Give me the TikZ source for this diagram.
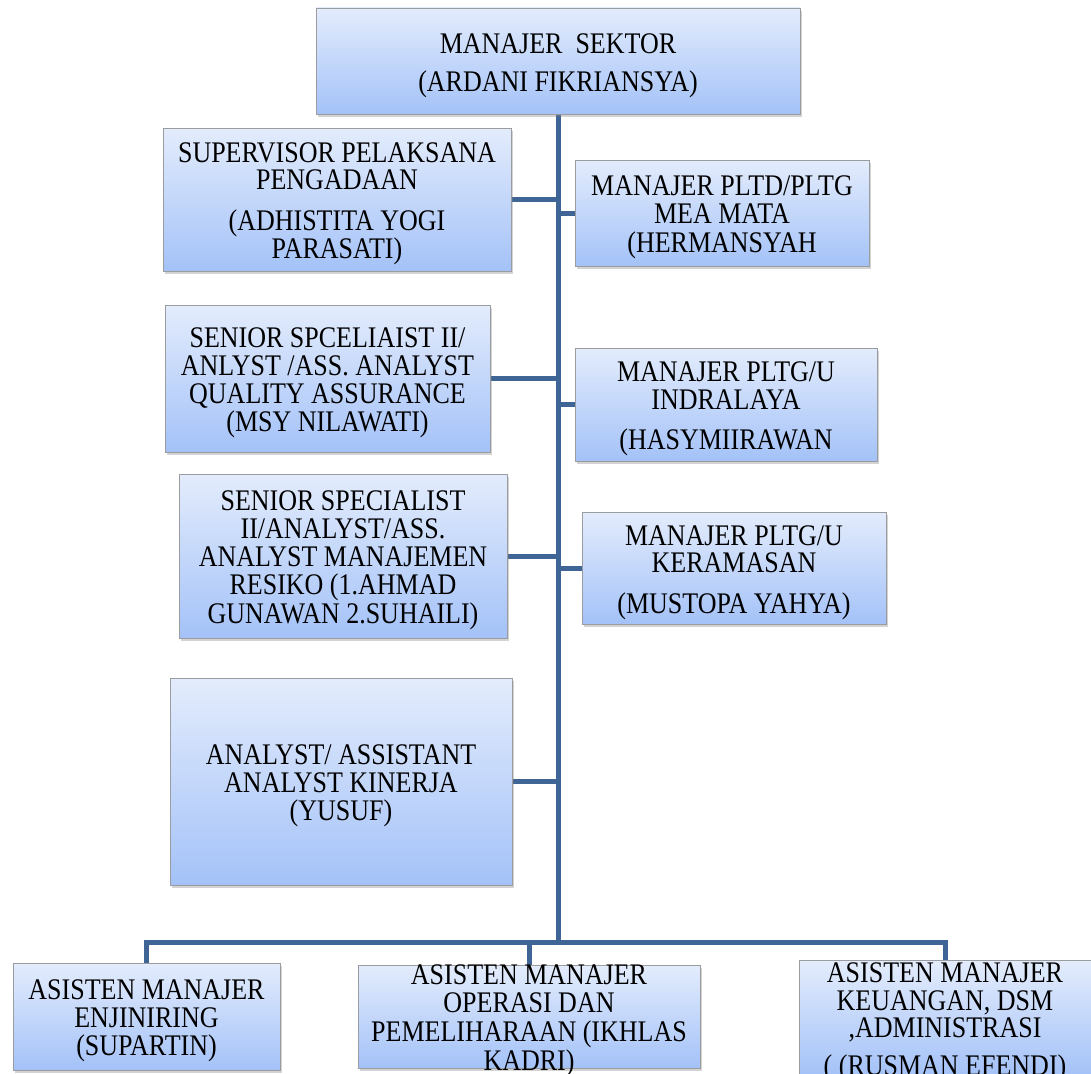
\documentclass[tikz,border=0pt]{standalone}
\usepackage{fontspec}
\setmainfont{Liberation Serif}
\usetikzlibrary{shadows,backgrounds}
\definecolor{linec}{HTML}{3E6596}
\definecolor{boxtop}{HTML}{E3ECFC}
\definecolor{boxbot}{HTML}{A4C2F8}
\definecolor{boxline}{HTML}{9A9CA0}
\newcommand{\boxtxt}[1]{\scalebox{1}[1.15]{\begin{tabular}{@{}c@{}}#1\\[-9pt]\end{tabular}}}
\begin{document}
\begin{tikzpicture}[x=1pt,y=-1pt,
  orgbox/.style={draw=boxline, line width=0.9pt, top color=boxtop, bottom color=boxbot,
    inner sep=0pt, font=\fontsize{26}{23.2}\selectfont,
    drop shadow={shadow xshift=2pt, shadow yshift=-3pt, opacity=0.35}},
  link/.style={draw=linec, line width=5pt}]
\useasboundingbox (0,0) rectangle (1091,1073);

\node[orgbox, minimum width=484pt, minimum height=106pt] (top) at (558,61)
  {\boxtxt{MANAJER\ \ SEKTOR\\[8pt] (ARDANI FIKRIANSYA)}};

\node[orgbox, minimum width=348pt, minimum height=143pt] (s1) at (337,199.5)
  {\boxtxt{SUPERVISOR PELAKSANA\\ PENGADAAN\\[10pt] (ADHISTITA YOGI\\ PARASATI)}};
\node[orgbox, minimum width=294pt, minimum height=106pt] (r1) at (722,213)
  {\boxtxt{MANAJER PLTD/PLTG\\ MEA MATA\\ (HERMANSYAH}};

\node[orgbox, minimum width=325pt, minimum height=147pt] (s2) at (327.5,378.5)
  {\boxtxt{SENIOR SPCELIAIST II/\\ ANLYST /ASS. ANALYST\\ QUALITY ASSURANCE\\ (MSY NILAWATI)}};
\node[orgbox, minimum width=302pt, minimum height=113pt] (r2) at (726,404.5)
  {\boxtxt{MANAJER PLTG/U\\ INDRALAYA\\[10pt] (HASYMIIRAWAN}};

\node[orgbox, minimum width=328pt, minimum height=164pt] (s3) at (343,556)
  {\boxtxt{SENIOR SPECIALIST\\ II/ANALYST/ASS.\\ ANALYST MANAJEMEN\\ RESIKO (1.AHMAD\\ GUNAWAN 2.SUHAILI)}};
\node[orgbox, minimum width=304pt, minimum height=112pt] (r3) at (734,568)
  {\boxtxt{MANAJER PLTG/U\\ KERAMASAN\\[10pt] (MUSTOPA YAHYA)}};

\node[orgbox, minimum width=342pt, minimum height=207pt] (s4) at (341,781.5)
  {\boxtxt{ANALYST/ ASSISTANT\\ ANALYST KINERJA\\ (YUSUF)}};

\node[orgbox, minimum width=267pt, minimum height=107pt] (b1) at (146.5,1016.5)
  {\boxtxt{ASISTEN MANAJER\\ ENJINIRING\\ (SUPARTIN)}};
\node[orgbox, minimum width=342pt, minimum height=103pt] (b2) at (529,1016.5)
  {\boxtxt{ASISTEN MANAJER\\ OPERASI DAN\\ PEMELIHARAAN (IKHLAS\\ KADRI)}};
\node[orgbox, minimum width=292pt, minimum height=115pt] (b3) at (945,1018)
  {\boxtxt{ASISTEN MANAJER\\ KEUANGAN, DSM\\ ,ADMINISTRASI\\[8pt] ( (RUSMAN EFENDI)}};

\coordinate (j) at (top.south |- 0,942);

\begin{scope}[on background layer]
  \draw[link] (top.south) -- (j);
  \draw[link] (b1.north) |- (j) -| (b3.north);
  \draw[link] (b2.north) -- (b2.north |- j);
  \foreach \n in {s1,s2,s3,s4} \draw[link] (\n.east) -- (\n.east -| j);
  \foreach \n in {r1,r2,r3} \draw[link] (\n.west) -- (\n.west -| j);
\end{scope}
\end{tikzpicture}
\end{document}
